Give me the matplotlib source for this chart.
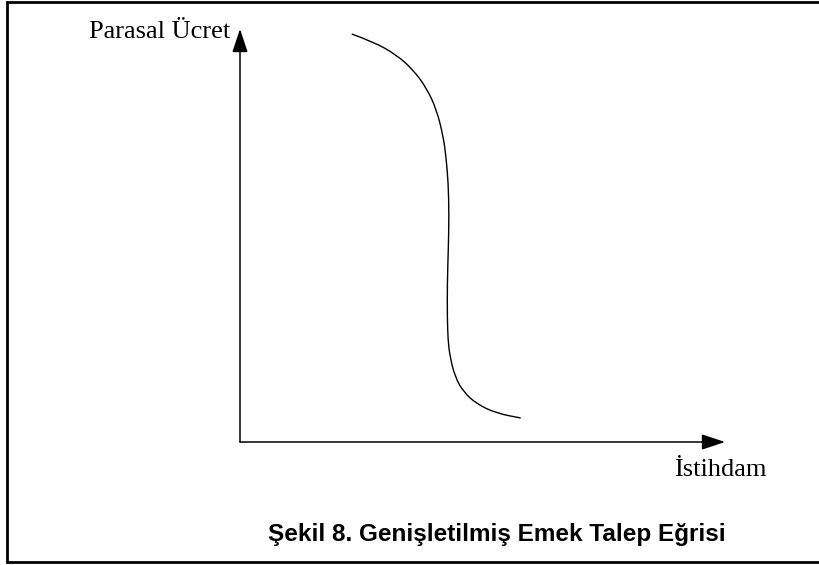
import matplotlib
matplotlib.use("Agg")
import matplotlib.pyplot as plt
from matplotlib.path import Path
from matplotlib.patches import PathPatch

# Curve (employment, money wage), axis origin at (0, 0)
employment = [111.7, 133.3, 156.7, 173.3, 186.7, 196.7, 203.3, 206.0, 208.3, 209.0,
              208.3, 207.3, 207.3, 208.0, 210.0, 215.0, 223.3, 236.7, 256.7, 280.7]
wage = [408.0, 400.3, 387.0, 372.0, 353.7, 332.0, 305.3, 285.3, 258.7, 225.3,
        192.0, 158.7, 125.3, 102.0, 85.3, 65.3, 50.3, 38.0, 28.7, 24.0]

x_label = "İstihdam"
y_label = "Parasal Ücret"
title = "Şekil 8. Genişletilmiş Emek Talep Eğrisi"

X_END = 485  # axis arrow tips
Y_END = 413

fig = plt.figure(figsize=(8.2, 5.65), dpi=100)
fig.patch.set_facecolor("white")
# one data unit = one pixel, origin where the axes cross
ax = fig.add_axes([0, 0, 1, 1])
ax.set_xlim(-240, 580)
ax.set_ylim(-123, 442)
ax.axis("off")

# frame around the figure (right side runs off the page)
ax.plot([580, -233, -233, 580], [440, 440, -120, -120],
        color="black", lw=2.0, solid_joinstyle="miter")

arrow = dict(arrowstyle="-|>,head_length=0.72,head_width=0.24", mutation_scale=20,
             lw=1.1, color="black", shrinkA=0, shrinkB=0)
ax.annotate("", xy=(X_END, 0), xytext=(0, 0), arrowprops=arrow)
ax.annotate("", xy=(0, Y_END), xytext=(0, 0), arrowprops=arrow)

# smooth curve: read points act as quadratic control points
pts = list(zip(employment, wage))
verts = [pts[0]]
codes = [Path.MOVETO]
for p, q in zip(pts[1:-1], pts[2:]):
    verts += [p, ((p[0] + q[0]) / 2, (p[1] + q[1]) / 2)]
    codes += [Path.CURVE3, Path.CURVE3]
verts.append(pts[-1])
codes.append(Path.LINETO)
ax.add_patch(PathPatch(Path(verts, codes), fill=False, edgecolor="black", lw=1.0))

serif = "Liberation Serif"
ax.text(-10, 404, y_label, ha="right", va="baseline", fontsize=19, family=serif)
ax.text(527, -34, x_label, ha="right", va="baseline", fontsize=19, family=serif)
ax.text(256.5, -99, title, ha="center", va="baseline", fontsize=17.5,
        fontweight="bold", family="Liberation Sans")

fig.savefig("out.png", dpi=100)
